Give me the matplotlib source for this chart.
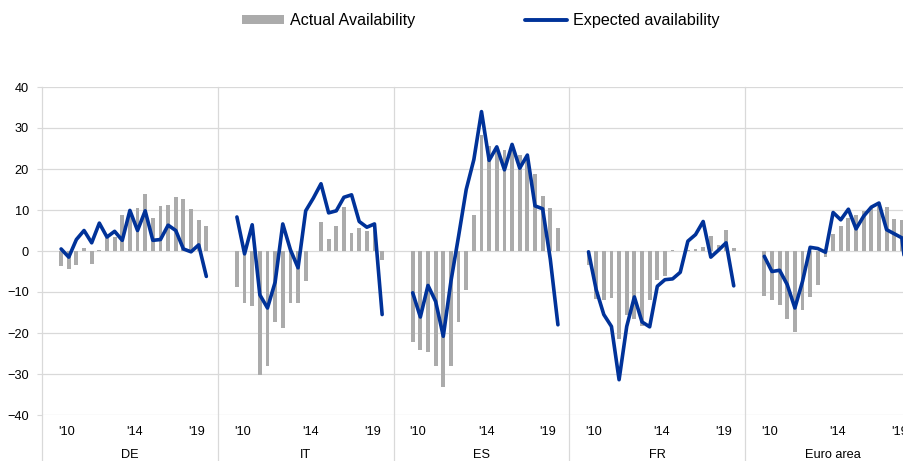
import matplotlib
matplotlib.use("Agg")
import matplotlib.pyplot as plt
import matplotlib.transforms as mtransforms
from matplotlib.patches import Patch
from matplotlib.lines import Line2D
import numpy as np

plt.rcParams['font.family'] = ['Liberation Sans', 'DejaVu Sans']

groups = ['DE', 'IT', 'ES', 'FR', 'Euro area']
year_labels = ["'10", "'14", "'19"]

actual = {
    'DE': [-3.6, -4.4, -3.3, 0.7, -3.2, 0.3, 3.2, 3.4, 8.9, 9.5,
           10.5, 13.9, 8.0, 10.9, 11.3, 13.1, 12.7, 10.2, 7.6, 6.0],
    'IT': [-8.8, -12.7, -13.5, -30.2, -28.0, -17.2, -18.8, -12.7, -12.8, -7.4,
           0.1, 7.0, 2.9, 6.2, 10.7, 4.4, 5.5, 4.9, 5.0, -2.1],
    'ES': [-22.2, -24.1, -24.7, -28.1, -33.2, -28.1, -17.2, -9.6, 8.9, 28.3,
           25.5, 25.0, 24.6, 24.6, 23.3, 22.4, 18.8, 13.3, 10.6, 5.7],
    'FR': [-3.4, -11.8, -11.9, -11.5, -21.5, -15.5, -16.6, -18.4, -12.0, -7.0,
           -6.2, 0.2, 0.0, 0.3, 0.5, 1.0, 3.6, 1.4, 5.2, 0.7],
    'Euro area': [-10.9, -11.9, -13.2, -16.6, -19.8, -14.5, -11.2, -8.4, -1.5, 4.2,
                  6.0, 8.0, 8.9, 9.7, 10.7, 11.0, 10.7, 7.9, 7.6, 5.0],
}
expected = {
    'DE': [0.5, -1.5, 2.8, 5.0, 2.0, 6.8, 3.4, 4.8, 2.6, 9.9,
           5.0, 9.8, 2.6, 2.8, 6.3, 5.0, 0.5, -0.2, 1.5, -6.2],
    'IT': [8.3, -0.7, 6.4, -10.7, -13.9, -7.6, 6.6, 0.3, -4.1, 9.8,
           12.9, 16.4, 9.3, 9.8, 13.1, 13.7, 7.2, 5.8, 6.6, -15.5],
    'ES': [-10.2, -16.1, -8.4, -12.3, -20.8, -7.4, 3.6, 15.0, 22.3, 34.0,
           22.1, 25.4, 19.8, 26.0, 20.2, 23.4, 11.0, 10.3, -2.0, -18.0],
    'FR': [-0.2, -9.4, -15.5, -18.4, -31.4, -18.4, -11.2, -17.3, -18.5, -8.6,
           -7.0, -6.8, -5.2, 2.4, 4.0, 7.2, -1.5, 0.2, 2.0, -8.5],
    'Euro area': [-1.3, -5.0, -4.7, -8.2, -13.9, -7.4, 0.9, 0.6, -0.3, 9.4,
                  7.6, 10.2, 5.4, 8.5, 10.7, 11.7, 5.2, 4.2, 3.2, -12.0],
}

BAR_C = '#ABABAB'
LINE_C = '#003299'
GRID_C = '#D9D9D9'

W, H = 904, 461
fig = plt.figure(figsize=(W / 100, H / 100), dpi=100)
left_px, right_px, top_px, bot_px = 42, 921, 87, 415
ax = fig.add_axes([left_px / W, 1 - bot_px / H, (right_px - left_px) / W, (bot_px - top_px) / H])

SLOTS = 23
OFFSET = 2.5
for k, g in enumerate(groups):
    n = len(actual[g])
    x = SLOTS * k + OFFSET + np.arange(n)
    ax.bar(x, actual[g], width=0.5, color=BAR_C, zorder=2)
    ax.plot(x, expected[g], color=LINE_C, lw=2.6, zorder=3,
            solid_joinstyle='round', solid_capstyle='round')

ax.set_xlim(0, SLOTS * len(groups))
ax.set_ylim(-40, 40)
ax.set_yticks(np.arange(-40, 41, 10))
ax.tick_params(axis='y', length=3.5, color=GRID_C, width=0.8, labelsize=9.2, pad=6, labelcolor='#000000')
ax.set_xticks([])
ax.yaxis.grid(True, color=GRID_C, lw=0.9, zorder=0)
ax.set_axisbelow(True)
for s in ['top', 'right', 'bottom', 'left']:
    ax.spines[s].set_visible(False)

trans = mtransforms.blended_transform_factory(ax.transData, ax.transAxes)
for k in range(len(groups) + 1):
    ax.plot([SLOTS * k, SLOTS * k], [1, -0.3], transform=trans, color=GRID_C, lw=0.9,
            clip_on=False, zorder=1)

label_pos = [3.2, 12.1, 20.2]
for k, g in enumerate(groups):
    for lp, lab in zip(label_pos, year_labels):
        ax.text(SLOTS * k + lp, -0.051, lab, transform=trans, ha='center', va='center',
                fontsize=9.2, clip_on=False)
    ax.text(SLOTS * k + SLOTS / 2, -0.121, g, transform=trans, ha='center', va='center',
            fontsize=9.2, clip_on=False)

handles = [Patch(facecolor=BAR_C, edgecolor='none'),
           Line2D([], [], color=LINE_C, lw=2.8, solid_capstyle='round')]
fig.legend(handles, ['Actual Availability', 'Expected availability'],
           loc='center', bbox_to_anchor=(481 / W, 1 - 20.5 / H), ncol=2, frameon=False,
           fontsize=11.6, handlelength=2.6, handleheight=0.45, handletextpad=0.4,
           columnspacing=6.8, borderaxespad=0, borderpad=0)

fig.savefig('out.png', dpi=100)
